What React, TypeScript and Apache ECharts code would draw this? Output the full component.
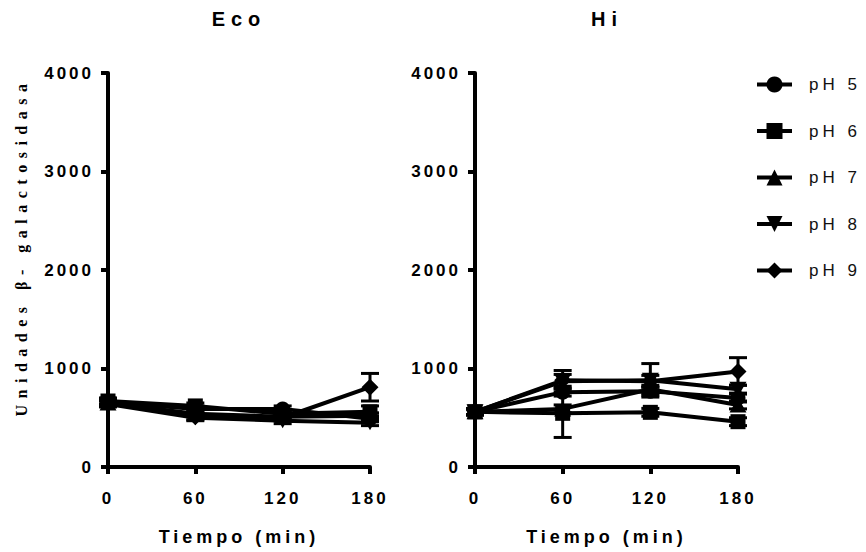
import React, { useEffect, useRef } from "react";
import * as echarts from "echarts";

const times = [0, 60, 120, 180];
const seriesNames = ["pH 5", "pH 6", "pH 7", "pH 8", "pH 9"];
const yTicks = [0, 1000, 2000, 3000, 4000];
const panelTitles = ["Eco", "Hi"];
const xTitle = "Tiempo (min)";
const yTitle = "Unidades β- galactosidasa";

const ecoValues = [
  [660, 590, 590, 490],
  [670, 620, 540, 560],
  [650, 540, 510, 520],
  [640, 500, 470, 450],
  [650, 510, 500, 810],
];
const ecoSD = [
  [30, 30, 30, 30],
  [30, 30, 30, 60],
  [30, 30, 30, 30],
  [30, 30, 30, 30],
  [30, 30, 30, 140],
];
const hiValues = [
  [560, 760, 770, 700],
  [560, 545, 555, 460],
  [560, 590, 790, 630],
  [560, 870, 880, 790],
  [560, 880, 870, 970],
];
const hiSD = [
  [30, 40, 40, 40],
  [30, 245, 40, 40],
  [30, 40, 40, 40],
  [30, 110, 170, 40],
  [30, 60, 60, 140],
];

const SYMBOLS = ["circle", "rect", "triangle", "path://M0,0L20,0L10,18Z", "diamond"];
const SYMBOL_SIZES: any[] = [15, 15, [17, 15], [17, 15], 17];

const SANS = "'Liberation Sans', Arial, sans-serif";
const SERIF = "'Liberation Serif', 'Times New Roman', serif";

function spacingFor(s: string): number {
  if (s === "Eco" || s === "Hi") return 6;
  if (s === xTitle) return 4;
  if (s.startsWith("pH")) return 4;
  if (s.startsWith("Unidades")) return 6.5;
  if (/^\d+$/.test(s)) return 3;
  return 0;
}

function errRender(params: any, api: any) {
  const x = api.value(0);
  const lo = api.coord([x, api.value(1)]);
  const hi = api.coord([x, api.value(2)]);
  const hw = 9;
  const st = { stroke: "#000", lineWidth: 3 };
  return {
    type: "group",
    children: [
      { type: "line", shape: { x1: lo[0], y1: lo[1], x2: hi[0], y2: hi[1] }, style: st },
      { type: "line", shape: { x1: hi[0] - hw, y1: hi[1], x2: hi[0] + hw, y2: hi[1] }, style: st },
      { type: "line", shape: { x1: lo[0] - hw, y1: lo[1], x2: lo[0] + hw, y2: lo[1] }, style: st },
    ],
  };
}

export default function App() {
  const ref = useRef<HTMLDivElement>(null);
  useEffect(() => {
    const el = ref.current!;
    const chart = echarts.init(el, null, { renderer: "svg" });
    const applySpacing = () => {
      el.querySelectorAll("text").forEach((t) => {
        const sp = spacingFor((t.textContent || "").trim());
        if (sp) t.setAttribute("letter-spacing", String(sp));
      });
    };
    chart.on("rendered", applySpacing);

    const grids = [
      { left: 108, top: 73, width: 262, height: 394 },
      { left: 475, top: 73, width: 263, height: 394 },
    ];
    const axisCommon = {
      axisLine: { show: true, lineStyle: { color: "#000", width: 4 } },
      axisTick: { show: true, inside: false, length: 7, lineStyle: { color: "#000", width: 4 } },
      splitLine: { show: false },
    };
    const labelStyle = {
      fontSize: 17,
      fontWeight: "bold",
      color: "#000",
      fontFamily: SANS,
      formatter: (v: number) => String(v),
    };
    const xAxes = grids.map((_, i) => ({
      type: "value",
      gridIndex: i,
      min: 0,
      max: 180,
      interval: 60,
      ...axisCommon,
      axisLabel: { ...labelStyle, margin: 23 },
      name: xTitle,
      nameLocation: "middle",
      nameGap: 61,
      nameTextStyle: { fontSize: 18, fontWeight: "bold", color: "#000", fontFamily: SANS },
    }));
    const yAxes = grids.map((_, i) => ({
      type: "value",
      gridIndex: i,
      min: yTicks[0],
      max: yTicks[yTicks.length - 1],
      interval: yTicks[1] - yTicks[0],
      ...axisCommon,
      axisLabel: { ...labelStyle, margin: 14 },
    }));

    const series: any[] = [];
    [ecoValues, hiValues].forEach((vals, g) => {
      vals.forEach((row, s) => {
        series.push({
          type: "line",
          name: seriesNames[s],
          xAxisIndex: g,
          yAxisIndex: g,
          data: row.map((v, j) => [times[j], v]),
          symbol: SYMBOLS[s],
          symbolSize: SYMBOL_SIZES[s],
          showAllSymbol: true,
          lineStyle: { color: "#000", width: 4 },
          itemStyle: { color: "#000" },
          z: 3,
        });
      });
    });
    [
      [ecoValues, ecoSD],
      [hiValues, hiSD],
    ].forEach(([vals, sds], g) => {
      const data: number[][] = [];
      vals.forEach((row, s) =>
        row.forEach((v, j) => data.push([times[j], v - sds[s][j], v + sds[s][j]]))
      );
      series.push({
        type: "custom",
        name: "err" + g,
        xAxisIndex: g,
        yAxisIndex: g,
        renderItem: errRender,
        encode: { x: 0, y: [1, 2] },
        data,
        z: 2,
      });
    });

    chart.setOption({
      animation: false,
      backgroundColor: "#fff",
      title: panelTitles.map((t, i) => ({
        text: t,
        left: i === 0 ? 239 : 607,
        top: 9,
        textAlign: "center",
        padding: 0,
        textStyle: { fontSize: 20, fontWeight: "bold", color: "#000", fontFamily: SANS },
      })),
      legend: {
        data: seriesNames,
        orient: "vertical",
        left: 755,
        top: 76,
        itemWidth: 35,
        itemHeight: 20,
        itemGap: 29.5,
        padding: 0,
        lineStyle: { width: 4, color: "#000" },
        textStyle: { fontSize: 17, color: "#111", fontFamily: SANS, padding: [0, 0, 0, 12] },
      },
      graphic: [
        {
          type: "text",
          x: 21,
          y: 247,
          rotation: Math.PI / 2,
          style: {
            text: yTitle,
            fill: "#000",
            font: `bold 16px ${SERIF}`,
            textAlign: "center",
            textVerticalAlign: "middle",
          },
        },
      ],
      grid: grids,
      xAxis: xAxes,
      yAxis: yAxes,
      series,
    });
    applySpacing();
    return () => {
      chart.dispose();
    };
  }, []);
  return (
    <div
      ref={ref}
      style={{ position: "absolute", left: 0, top: 0, width: 866, height: 552, background: "#fff" }}
    />
  );
}
